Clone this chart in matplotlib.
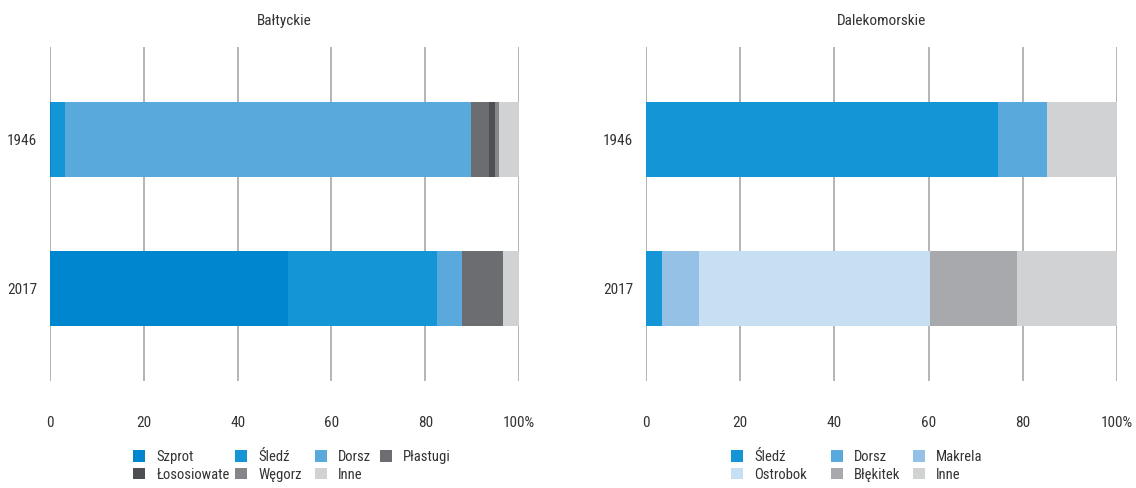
import matplotlib
matplotlib.use("Agg")
import matplotlib.pyplot as plt
from matplotlib.patches import Patch

plt.rcParams['font.family'] = ['Roboto Condensed', 'IBM Plex Sans Condensed', 'Roboto', 'DejaVu Sans']

years = ["1946", "2017"]

# Bałtyckie (%)
balt_species = ["Szprot", "Śledź", "Dorsz", "Płastugi", "Łososiowate", "Węgorz", "Inne"]
balt_1946 = [0.2, 2.9, 86.6, 3.8, 1.3, 0.9, 4.3]
balt_2017 = [50.7, 31.8, 5.3, 8.7, 0.0, 0.0, 3.5]
balt_colors = ["#0086CE", "#1496D6", "#5AA9DC", "#6C6D71", "#4E4F52", "#858689", "#D1D2D4"]

# Dalekomorskie (%)
dal_species = ["Śledź", "Dorsz", "Makrela", "Ostrobok", "Błękitek", "Inne"]
dal_1946 = [74.8, 10.4, 0.0, 0.0, 0.0, 14.8]
dal_2017 = [3.5, 0.0, 7.7, 49.1, 18.5, 21.2]
dal_colors = ["#1496D6", "#5AA9DC", "#95C1E7", "#C7DFF2", "#A8A9AD", "#D1D2D4"]

xticks = [0, 20, 40, 60, 80, 100]
xticklabels = ["0", "20", "40", "60", "80", "100%"]

TXT = "#333333"
FS = 11
LFS = 10.5

fig = plt.figure(figsize=(11.36, 4.88), dpi=100)
axL = fig.add_axes([50/1136, 1 - 381/488, 469/1136, 334/488])
axR = fig.add_axes([646/1136, 1 - 381/488, 471/1136, 334/488])


def draw(ax, title, species, v1946, v2017, colors):
    ypos = [0, 1]
    vals = [v1946, v2017]
    for yi, row in zip(ypos, vals):
        left = 0.0
        for v, c in zip(row, colors):
            if v > 0:
                ax.barh(yi, v, left=left, height=0.5, color=c, edgecolor='none', zorder=3)
            left += v
    ax.set_xlim(0, 100)
    ax.set_ylim(1.62, -0.62)
    ax.set_xticks(xticks)
    ax.set_xticklabels(xticklabels, fontsize=FS, color=TXT)
    ax.set_yticks(ypos)
    ax.set_yticklabels(years, fontsize=FS, color=TXT)
    ax.tick_params(axis='x', length=0, pad=25)
    ax.tick_params(axis='y', length=0, pad=9)
    for s in ax.spines.values():
        s.set_visible(False)
    ax.grid(axis='x', color='#A0A0A0', linewidth=1.1, zorder=0)
    ax.set_axisbelow(True)
    ax.set_title(title, fontsize=FS, color=TXT, pad=16)


draw(axL, "Bałtyckie", balt_species, balt_1946, balt_2017, balt_colors)
draw(axR, "Dalekomorskie", dal_species, dal_1946, dal_2017, dal_colors)

# Legends: one small legend per column, placed at the reference column positions
def make_legend(species, colors, columns, xs, y):
    for col, x in zip(columns, xs):
        handles = [Patch(facecolor=colors[i], edgecolor='none', label=species[i]) for i in col]
        leg = fig.legend(handles=handles, ncol=1, loc='upper left',
                         bbox_to_anchor=(x / 1136, 1 - y / 488), frameon=False, fontsize=LFS,
                         handlelength=0.85, handleheight=0.85, handletextpad=0.75,
                         labelspacing=0.25, borderpad=0, borderaxespad=0)
        for t in leg.get_texts():
            t.set_color(TXT)

make_legend(balt_species, balt_colors, [[0, 4], [1, 5], [2, 6], [3]], [133, 235, 315, 380], 450)
make_legend(dal_species, dal_colors, [[0, 3], [1, 4], [2, 5]], [731, 831, 913], 450)

fig.savefig("out.png", dpi=100)
